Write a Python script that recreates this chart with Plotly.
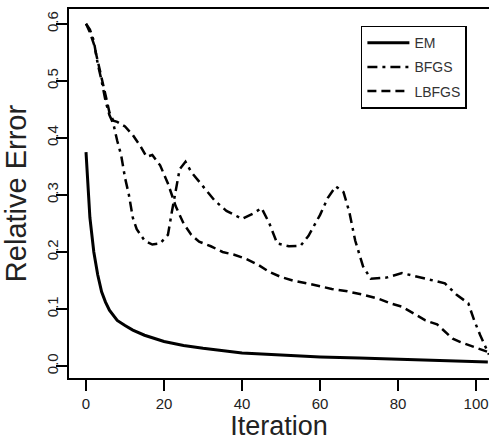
import plotly.graph_objects as go

# EM
em_x = [0, 1, 2, 3, 4, 5, 6, 8, 10, 12, 15, 17, 20, 25, 30, 40, 50, 60, 70, 80, 90, 100, 103]
em_y = [0.375, 0.26, 0.2, 0.16, 0.13, 0.112, 0.098, 0.08, 0.071, 0.063, 0.054, 0.05, 0.043, 0.036, 0.031,
        0.023, 0.019, 0.016, 0.014, 0.012, 0.010, 0.008, 0.007]

# BFGS
bfgs_x = [0, 1, 2, 3, 4, 5, 6, 7, 8, 9, 10, 11, 12, 13, 15, 17, 19, 21, 22, 23, 24, 25.5, 27, 30, 33,
          36, 40, 43, 45, 47, 49, 52, 55, 57, 60, 62, 64, 66, 67.5, 69, 71, 73, 77, 81, 85, 89, 92, 95,
          98, 99.5, 101, 102, 103.3]
bfgs_y = [0.60, 0.59, 0.57, 0.53, 0.50, 0.465, 0.44, 0.425, 0.395, 0.37, 0.33, 0.30, 0.26, 0.24, 0.22,
          0.213, 0.215, 0.23, 0.27, 0.31, 0.345, 0.358, 0.34, 0.315, 0.29, 0.272, 0.258, 0.268, 0.277,
          0.25, 0.215, 0.21, 0.211, 0.228, 0.265, 0.295, 0.315, 0.305, 0.27, 0.22, 0.175, 0.153, 0.155,
          0.163, 0.157, 0.15, 0.145, 0.125, 0.11, 0.08, 0.055, 0.04, 0.02]

# LBFGS
lbfgs_x = [0, 1, 2, 3, 4, 5, 6, 7, 8, 10, 12, 14, 15.5, 17, 19, 21, 23, 25, 27, 29, 32, 35, 38, 41, 44,
           47, 50, 53, 56, 60, 63, 67, 71, 75, 78, 81, 84, 87, 90, 92, 94, 96, 98, 100, 103.3]
lbfgs_y = [0.60, 0.585, 0.565, 0.535, 0.505, 0.47, 0.445, 0.43, 0.428, 0.42, 0.405, 0.385, 0.367, 0.37,
           0.352, 0.32, 0.28, 0.25, 0.23, 0.218, 0.21, 0.2, 0.195, 0.188, 0.178, 0.165, 0.156, 0.15,
           0.146, 0.14, 0.135, 0.131, 0.125, 0.118, 0.11, 0.104, 0.092, 0.08, 0.073, 0.06, 0.048, 0.042,
           0.037, 0.033, 0.024]

x_ticks = [0, 20, 40, 60, 80, 100]
y_ticks = [0.0, 0.1, 0.2, 0.3, 0.4, 0.5, 0.6]

fig = go.Figure()
fig.add_trace(go.Scatter(x=em_x, y=em_y, mode="lines", name="EM", legendgroup="a",
                         line=dict(color="black", width=3)))
fig.add_trace(go.Scatter(x=bfgs_x, y=bfgs_y, mode="lines", name="BFGS", legendgroup="b",
                         line=dict(color="black", width=2.5, dash="10px,5px,3px,5px")))
fig.add_trace(go.Scatter(x=lbfgs_x, y=lbfgs_y, mode="lines", name="LBFGS", legendgroup="c",
                         line=dict(color="black", width=2.5, dash="9px,5px")))

fig.update_layout(
    width=489, height=441,
    margin=dict(l=69, r=0, t=9, b=63),
    paper_bgcolor="white", plot_bgcolor="white",
    font=dict(family="Liberation Sans, Arial, sans-serif", color="#222"),
    showlegend=True,
    legend=dict(x=0.695, y=0.955, xanchor="left", yanchor="top",
                bordercolor="black", borderwidth=1.5, bgcolor="white",
                font=dict(size=14, color="#333"), tracegroupgap=3, itemwidth=42),
    xaxis=dict(range=[-4.36, 103.3], tickvals=x_ticks, showgrid=False, zeroline=False,
               showline=True, linecolor="black", linewidth=1.5, mirror=True,
               ticks="outside", ticklen=11, tickwidth=1.5, tickcolor="black",
               tickfont=dict(size=15), automargin=False, ticklabeloverflow="allow",
               title=dict(text="Iteration", font=dict(size=27, color="#222"), standoff=28)),
    yaxis=dict(range=[-0.021, 0.626], tickvals=y_ticks, tickformat=".1f", tickangle=-90,
               showgrid=False, zeroline=False, ticklabelstandoff=-8,
               showline=True, linecolor="black", linewidth=1.5, mirror=False,
               ticks="outside", ticklen=11, tickwidth=1.5, tickcolor="black",
               tickfont=dict(size=15), automargin=False, ticklabeloverflow="allow",
               title=dict(text="Relative Error", font=dict(size=29, color="#222"), standoff=16)),
)

fig.write_html("out.html", config={"displayModeBar": False},
               post_script="document.body.style.margin='0';")
